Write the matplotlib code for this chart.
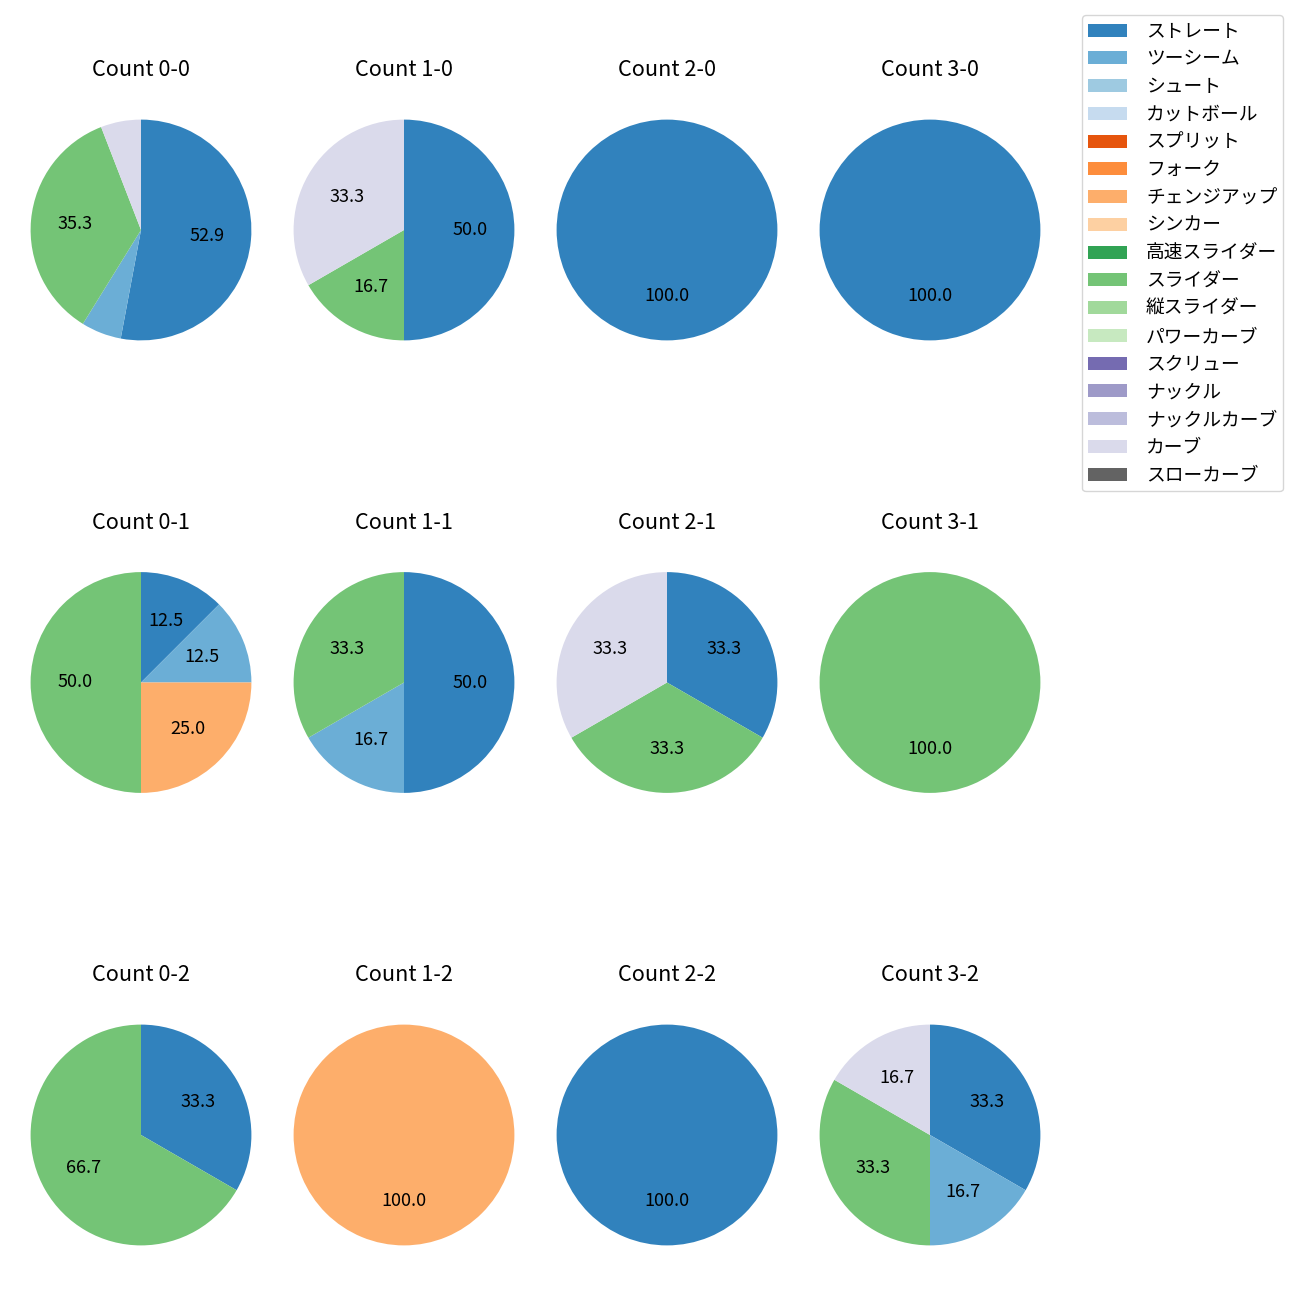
import matplotlib
matplotlib.use("Agg")
import matplotlib.pyplot as plt
from matplotlib.patches import Patch
import numpy as np

plt.rcParams['font.family'] = ['Noto Sans CJK JP', 'DejaVu Sans']

pitch_types = ['ストレート', 'ツーシーム', 'シュート', 'カットボール', 'スプリット', 'フォーク',
               'チェンジアップ', 'シンカー', '高速スライダー', 'スライダー', '縦スライダー',
               'パワーカーブ', 'スクリュー', 'ナックル', 'ナックルカーブ', 'カーブ', 'スローカーブ']

counts_labels = [['Count 0-0', 'Count 1-0', 'Count 2-0', 'Count 3-0'],
                 ['Count 0-1', 'Count 1-1', 'Count 2-1', 'Count 3-1'],
                 ['Count 0-2', 'Count 1-2', 'Count 2-2', 'Count 3-2']]

# pitch counts per situation: {pitch index: count}
count_0_0 = {0: 9, 1: 1, 9: 6, 15: 1}
count_1_0 = {0: 3, 9: 1, 15: 2}
count_2_0 = {0: 1}
count_3_0 = {0: 1}
count_0_1 = {0: 1, 1: 1, 6: 2, 9: 4}
count_1_1 = {0: 3, 1: 1, 9: 2}
count_2_1 = {0: 1, 9: 1, 15: 1}
count_3_1 = {9: 1}
count_0_2 = {0: 1, 9: 2}
count_1_2 = {6: 1}
count_2_2 = {0: 1}
count_3_2 = {0: 2, 1: 1, 9: 2, 15: 1}

data = {
    'Count 0-0': count_0_0, 'Count 1-0': count_1_0, 'Count 2-0': count_2_0, 'Count 3-0': count_3_0,
    'Count 0-1': count_0_1, 'Count 1-1': count_1_1, 'Count 2-1': count_2_1, 'Count 3-1': count_3_1,
    'Count 0-2': count_0_2, 'Count 1-2': count_1_2, 'Count 2-2': count_2_2, 'Count 3-2': count_3_2,
}

cmap = plt.get_cmap('tab20c')
colors = [cmap(i) for i in range(len(pitch_types))]

S = 1.3  # font scale
W, H = 1300, 1300
fig = plt.figure(figsize=(13, 13), dpi=100)

col_centers = [141, 404, 667, 930]
row_centers = [230, 682.5, 1135]
side = 276

def autopct(p):
    return f'{p:.1f}' if p >= 10 else ''

for r, rc in enumerate(row_centers):
    for c, cc in enumerate(col_centers):
        ax = fig.add_axes([(cc - side / 2) / W, 1 - (rc + side / 2) / H, side / W, side / H])
        name = counts_labels[r][c]
        d = data[name]
        idx = sorted(d.keys())
        vals = [d[i] for i in idx]
        ax.pie(vals, colors=[colors[i] for i in idx], startangle=90,
               counterclock=False, autopct=autopct, textprops={'fontsize': 10 * S})
        ax.set_title(name, fontsize=12 * S, pad=11.4)

handles = [Patch(facecolor=colors[i], label=pitch_types[i]) for i in range(len(pitch_types))]
fig.legend(handles=handles, loc='upper right', bbox_to_anchor=(1283 / W, 1 - 15 / H),
           borderaxespad=0, fontsize=13.5, handlelength=2.1, handletextpad=1.0,
           labelspacing=0.36, borderpad=0.3)

fig.savefig('out.png', dpi=100)
